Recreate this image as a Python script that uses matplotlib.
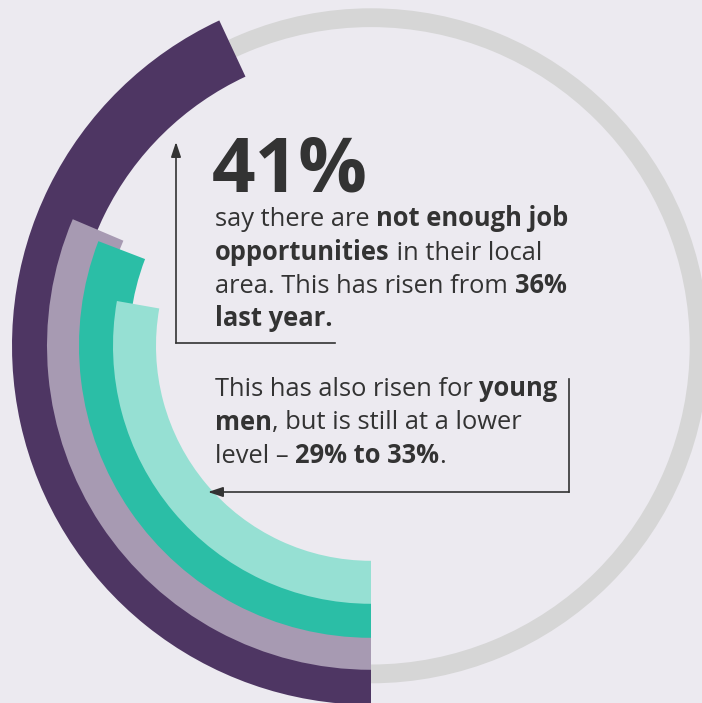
import numpy as np
import matplotlib
matplotlib.use('Agg')
import matplotlib.pyplot as plt

labels = ['41% this year', '36% last year', '33% young men this year', '29% young men last year']
sweep_deg = [155, 113, 111, 100]
inner_r = [297, 269, 242, 215]
outer_r = [359, 324, 292, 258]
colors = ['#4E3663', '#A79AB2', '#2BBEA6', '#96E0D3']

# Grey track ring
track_r = [318.7, 337.5]

bg = '#ECEAF0'
ink = '#333333'
font = 'Open Sans'

fig = plt.figure(figsize=(7.02, 7.03), dpi=100)
fig.patch.set_facecolor(bg)

# Polar axes placed so that its centre sits at (371, 346) px, 1 data unit = 1 px
W, H = 702, 703
cx, cy, R = 371, 345.8, 360
ax = fig.add_axes([(cx - R) / W, (H - cy - R) / H, 2 * R / W, 2 * R / H], projection='polar')
ax.set_theta_zero_location('S')
ax.set_theta_direction(-1)
ax.set_ylim(0, R)
ax.set_axis_off()

ax.bar(0, track_r[1] - track_r[0], width=2 * np.pi, bottom=track_r[0],
       color='#D6D6D6', align='edge', zorder=1)
for i, (sw, r0, r1, c) in enumerate(zip(sweep_deg, inner_r, outer_r, colors)):
    ax.bar(0, r1 - r0, width=np.deg2rad(sw), bottom=r0, color=c,
           align='edge', linewidth=0, zorder=2 + i)

# Overlay axes in pixel coordinates for the text and arrows
tx = fig.add_axes([0, 0, 1, 1])
tx.set_xlim(0, W)
tx.set_ylim(H, 0)
tx.set_axis_off()
tx.patch.set_alpha(0)

renderer = fig.canvas.get_renderer()


def width_of(s, size, weight):
    t1 = tx.text(0, 0, '|' + s + '|', fontsize=size, fontweight=weight, family=font)
    t2 = tx.text(0, 0, '||', fontsize=size, fontweight=weight, family=font)
    w = t1.get_window_extent(renderer).width - t2.get_window_extent(renderer).width
    t1.remove()
    t2.remove()
    return w


def rich_line(x, y, parts, size=18.4):
    for s, bold in parts:
        weight = 'bold' if bold else 'normal'
        tx.text(x, y, s, fontsize=size, fontweight=weight, family=font,
                color=ink, va='baseline', ha='left')
        x += width_of(s, size, weight)


# Headline figure
tx.text(212, 191, '41%', fontsize=55, fontweight='bold', family=font,
        color=ink, va='baseline', ha='left')

lh = 33.5
rich_line(215, 226, [('say there are ', False), ('not enough job', True)])
rich_line(215, 226 + lh, [('opportunities', True), (' in their local', False)])
rich_line(215, 226 + 2 * lh, [('area. This has risen from ', False), ('36%', True)])
rich_line(215, 226 + 3 * lh, [('last year.', True)])

rich_line(215, 396, [('This has also risen for ', False), ('young', True)])
rich_line(215, 396 + lh, [('men', True), (', but is still at a lower', False)])
rich_line(215, 396 + 2 * lh, [('level \u2013 ', False), ('29% to 33%', True), ('.', False)])

# Arrows
arrow = dict(arrowstyle='-|>,head_length=0.9,head_width=0.3', color=ink,
             lw=1.2, shrinkA=0, shrinkB=0)
tx.plot([335, 176], [343, 343], color=ink, lw=1.2)
tx.annotate('', xy=(176, 142), xytext=(176, 343), arrowprops=arrow)
tx.plot([569, 569], [379, 492], color=ink, lw=1.2)
tx.annotate('', xy=(208, 492), xytext=(569, 492), arrowprops=arrow)

fig.savefig('out.png', dpi=100, facecolor=bg)
